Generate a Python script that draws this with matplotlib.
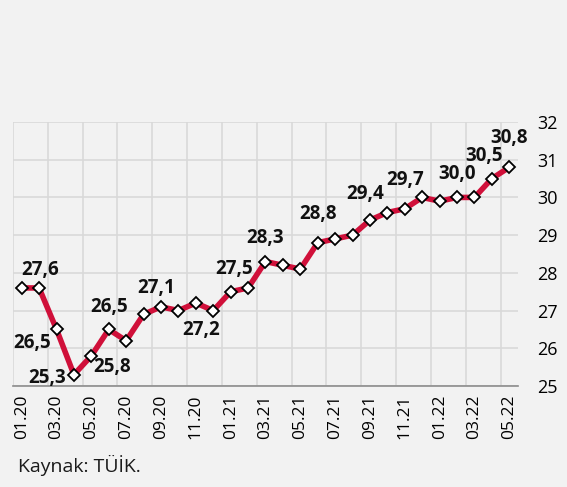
import numpy as np
import matplotlib.pyplot as plt

plt.rcParams['font.family'] = ['Open Sans', 'DejaVu Sans']

# monthly values 01.20 .. 05.22
months = ['01.20', '02.20', '03.20', '04.20', '05.20', '06.20', '07.20', '08.20',
          '09.20', '10.20', '11.20', '12.20', '01.21', '02.21', '03.21', '04.21',
          '05.21', '06.21', '07.21', '08.21', '09.21', '10.21', '11.21', '12.21',
          '01.22', '02.22', '03.22', '04.22', '05.22']
values = [27.6, 27.6, 26.5, 25.3, 25.8, 26.5, 26.2, 26.9, 27.1, 27.0, 27.2, 27.0,
          27.5, 27.6, 28.3, 28.2, 28.1, 28.8, 28.9, 29.0, 29.4, 29.6, 29.7, 30.0,
          29.9, 30.0, 30.0, 30.5, 30.8]

# which points get a value label, and where (dx, dy in points, label centre)
label_idx = [1, 2, 3, 4, 5, 8, 10, 12, 14, 17, 20, 22, 25, 27, 28]
label_off = {1: (0.7, 13), 2: (-17.5, -10), 3: (-19.5, -2.5), 4: (15, -8),
             5: (0, 16.5), 8: (-3.3, 13.5), 10: (4, -19.5), 12: (2.5, 16.5),
             14: (0, 17), 17: (0, 21), 20: (-3.6, 19), 22: (0, 21),
             25: (0, 17), 27: (-5.5, 16), 28: (0, 21)}

bg = '#f2f2f2'
fig = plt.figure(figsize=(5.67, 4.87), dpi=100, facecolor=bg)
ax = fig.add_axes([0.0229, 0.2074, 0.8907, 0.5421], facecolor=bg)

x = np.arange(len(values))
ax.plot(x, values, color='#d0103a', linewidth=4, zorder=3,
        marker='D', markersize=6.5, markerfacecolor='white',
        markeredgecolor='black', markeredgewidth=1.3)

for i in label_idx:
    dx, dy = label_off[i]
    ax.annotate(f'{values[i]:.1f}'.replace('.', ','), (x[i], values[i]),
                xytext=(dx, dy), textcoords='offset points',
                ha='center', va='center', fontsize=13.5, fontweight='bold',
                color='#111111', zorder=4)

ax.set_xlim(-0.5, len(values) - 0.5)
ax.set_ylim(25, 32)
ax.set_xticks(x[::2])
ax.set_xticklabels(months[::2], rotation=90, fontsize=12.5)
ax.set_xticks(np.arange(-0.5, len(values) - 1, 2), minor=True)
ax.set_yticks(range(25, 33))
ax.yaxis.tick_right()
ax.tick_params(axis='y', length=0, pad=14, labelsize=13)
ax.tick_params(axis='x', which='both', length=0, pad=6)

ax.grid(axis='y', color='#d9d9d9', linewidth=1.2)
ax.grid(axis='x', which='minor', color='#d9d9d9', linewidth=1.2)
ax.set_axisbelow(True)
for s in ['top', 'right', 'left']:
    ax.spines[s].set_visible(False)
ax.spines['bottom'].set_color('#8c8c8c')
ax.spines['bottom'].set_linewidth(1.2)

fig.text(0.032, 0.03, 'Kaynak: TÜİK.', fontsize=14, color='#1a1a1a')

fig.savefig('out.png', dpi=100, facecolor=bg)
